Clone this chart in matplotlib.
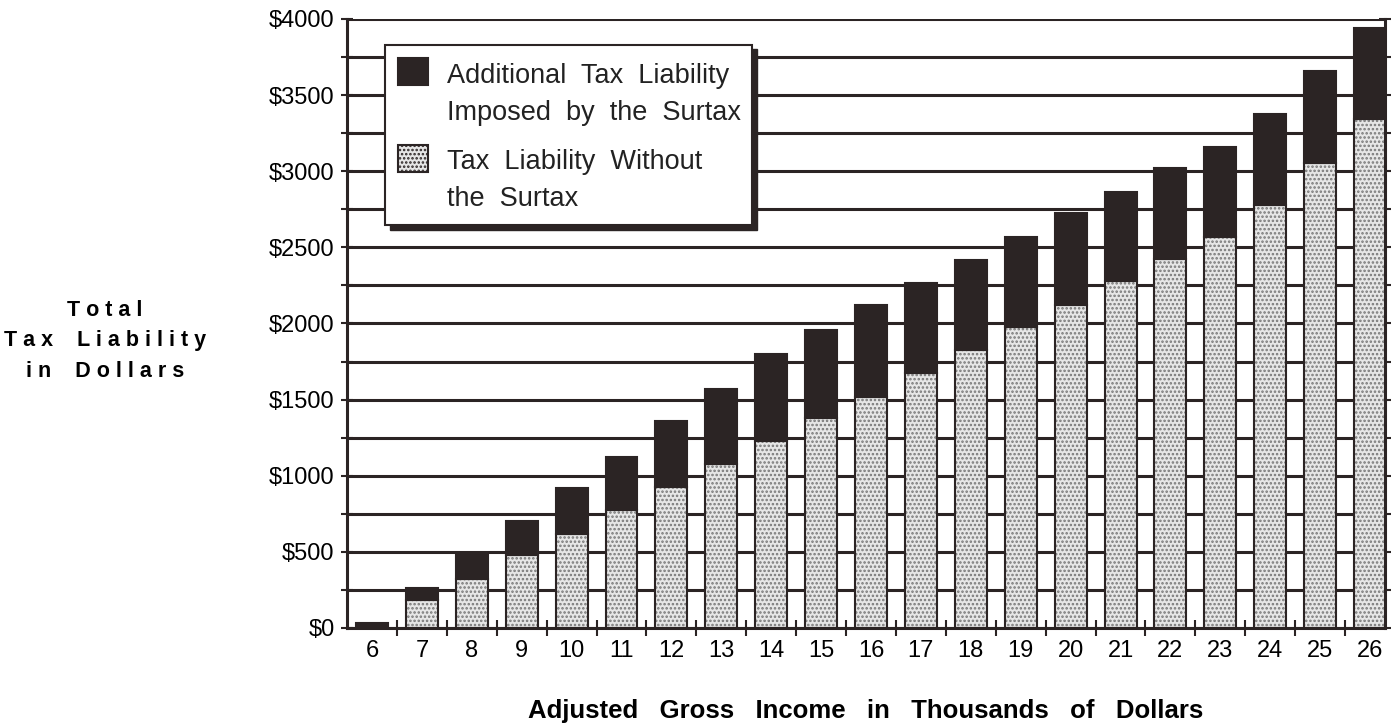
import numpy as np
import matplotlib.pyplot as plt
from matplotlib.patches import Rectangle
from matplotlib.ticker import MultipleLocator, FuncFormatter

# income in thousands of dollars
income = [6, 7, 8, 9, 10, 11, 12, 13, 14, 15, 16, 17, 18, 19, 20, 21, 22, 23, 24, 25, 26]
# tax liability without the surtax
base_tax = [0, 184, 322, 480, 617, 775, 926, 1080, 1225, 1380, 1517, 1675, 1826, 1980,
            2121, 2279, 2424, 2568, 2778, 3054, 3343]
# total tax liability (with surtax)
total_tax = [35, 263, 493, 703, 920, 1123, 1360, 1570, 1800, 1957, 2121, 2266, 2417, 2568,
             2726, 2864, 3021, 3159, 3376, 3658, 3941]
surtax = [t - b for t, b in zip(total_tax, base_tax)]

DARK = '#2b2424'
LIGHT = '#e6e6e6'

plt.rcParams['font.family'] = ['Liberation Sans', 'DejaVu Sans']
plt.rcParams['hatch.linewidth'] = 1.2

fig = plt.figure(figsize=(13.92, 7.25), dpi=100)
ax = fig.add_axes([0.2493, 0.1338, 0.7457, 0.84])

ax.set_axisbelow(True)
ax.bar(income, base_tax, width=0.64, color=LIGHT, edgecolor='#777777', hatch='....',
       linewidth=0, zorder=2)
ax.bar(income, base_tax, width=0.64, fill=False, edgecolor=DARK, linewidth=1.5, zorder=3)
ax.bar(income, surtax, bottom=base_tax, width=0.64, color=DARK, edgecolor=DARK,
       linewidth=1.5, zorder=3)

ax.set_xlim(5.5, 26.3)
ax.set_ylim(0, 4000)

ax.yaxis.set_major_locator(MultipleLocator(500))
ax.yaxis.set_minor_locator(MultipleLocator(250))
ax.yaxis.set_major_formatter(FuncFormatter(lambda v, p: '$%d' % v))
ax.grid(axis='y', which='both', color=DARK, linewidth=2.2, zorder=1)
ax.tick_params(axis='y', which='both', left=True, right=True, direction='inout',
               length=8, width=1.5, color=DARK, labelsize=17, pad=5)

ax.set_xticks(income)
ax.set_xticks([i + 0.5 for i in income[:-1]], minor=True)
ax.tick_params(axis='x', which='major', length=0, labelsize=17, pad=9)
ax.tick_params(axis='x', which='minor', direction='inout', length=12, width=1.5, color=DARK)

for s in ['left', 'bottom', 'right']:
    ax.spines[s].set_color(DARK)
    ax.spines[s].set_linewidth(2.2)
ax.spines['top'].set_visible(False)

ax.set_xlabel('Adjusted   Gross   Income   in   Thousands   of   Dollars', fontsize=18.5,
              fontweight='bold', labelpad=26)
fig.text(0.0755, 0.53, 'T o t a l\nT a x    L i a b i l i t y\ni n    D o l l a r s',
         ha='center', va='center', fontsize=15.5, fontweight='bold', linespacing=1.6)

# legend box drawn by hand (shadow, frame, swatches, labels)
tr = ax.transAxes
ax.add_patch(Rectangle((0.041, 0.654), 0.354, 0.296, transform=tr, facecolor=DARK,
                       edgecolor=DARK, clip_on=False, zorder=5))
ax.add_patch(Rectangle((0.0366, 0.662), 0.3534, 0.295, transform=tr, facecolor='white',
                       edgecolor=DARK, linewidth=1.5, clip_on=False, zorder=6))
ax.add_patch(Rectangle((0.049, 0.892), 0.0289, 0.0443, transform=tr, facecolor=DARK,
                       edgecolor=DARK, linewidth=1.5, zorder=7))
ax.add_patch(Rectangle((0.049, 0.749), 0.0289, 0.0443, transform=tr, facecolor=LIGHT,
                       edgecolor=DARK, hatch='....', linewidth=1.5, zorder=7))
ax.text(0.0963, 0.876, 'Additional  Tax  Liability\nImposed  by  the  Surtax',
        transform=tr, ha='left', va='center', fontsize=19.5, linespacing=1.55,
        color='#222222', zorder=8)
ax.text(0.0963, 0.735, 'Tax  Liability  Without\nthe  Surtax', transform=tr,
        ha='left', va='center', fontsize=19.5, linespacing=1.55, color='#222222', zorder=8)

fig.savefig('out.png', dpi=100)
